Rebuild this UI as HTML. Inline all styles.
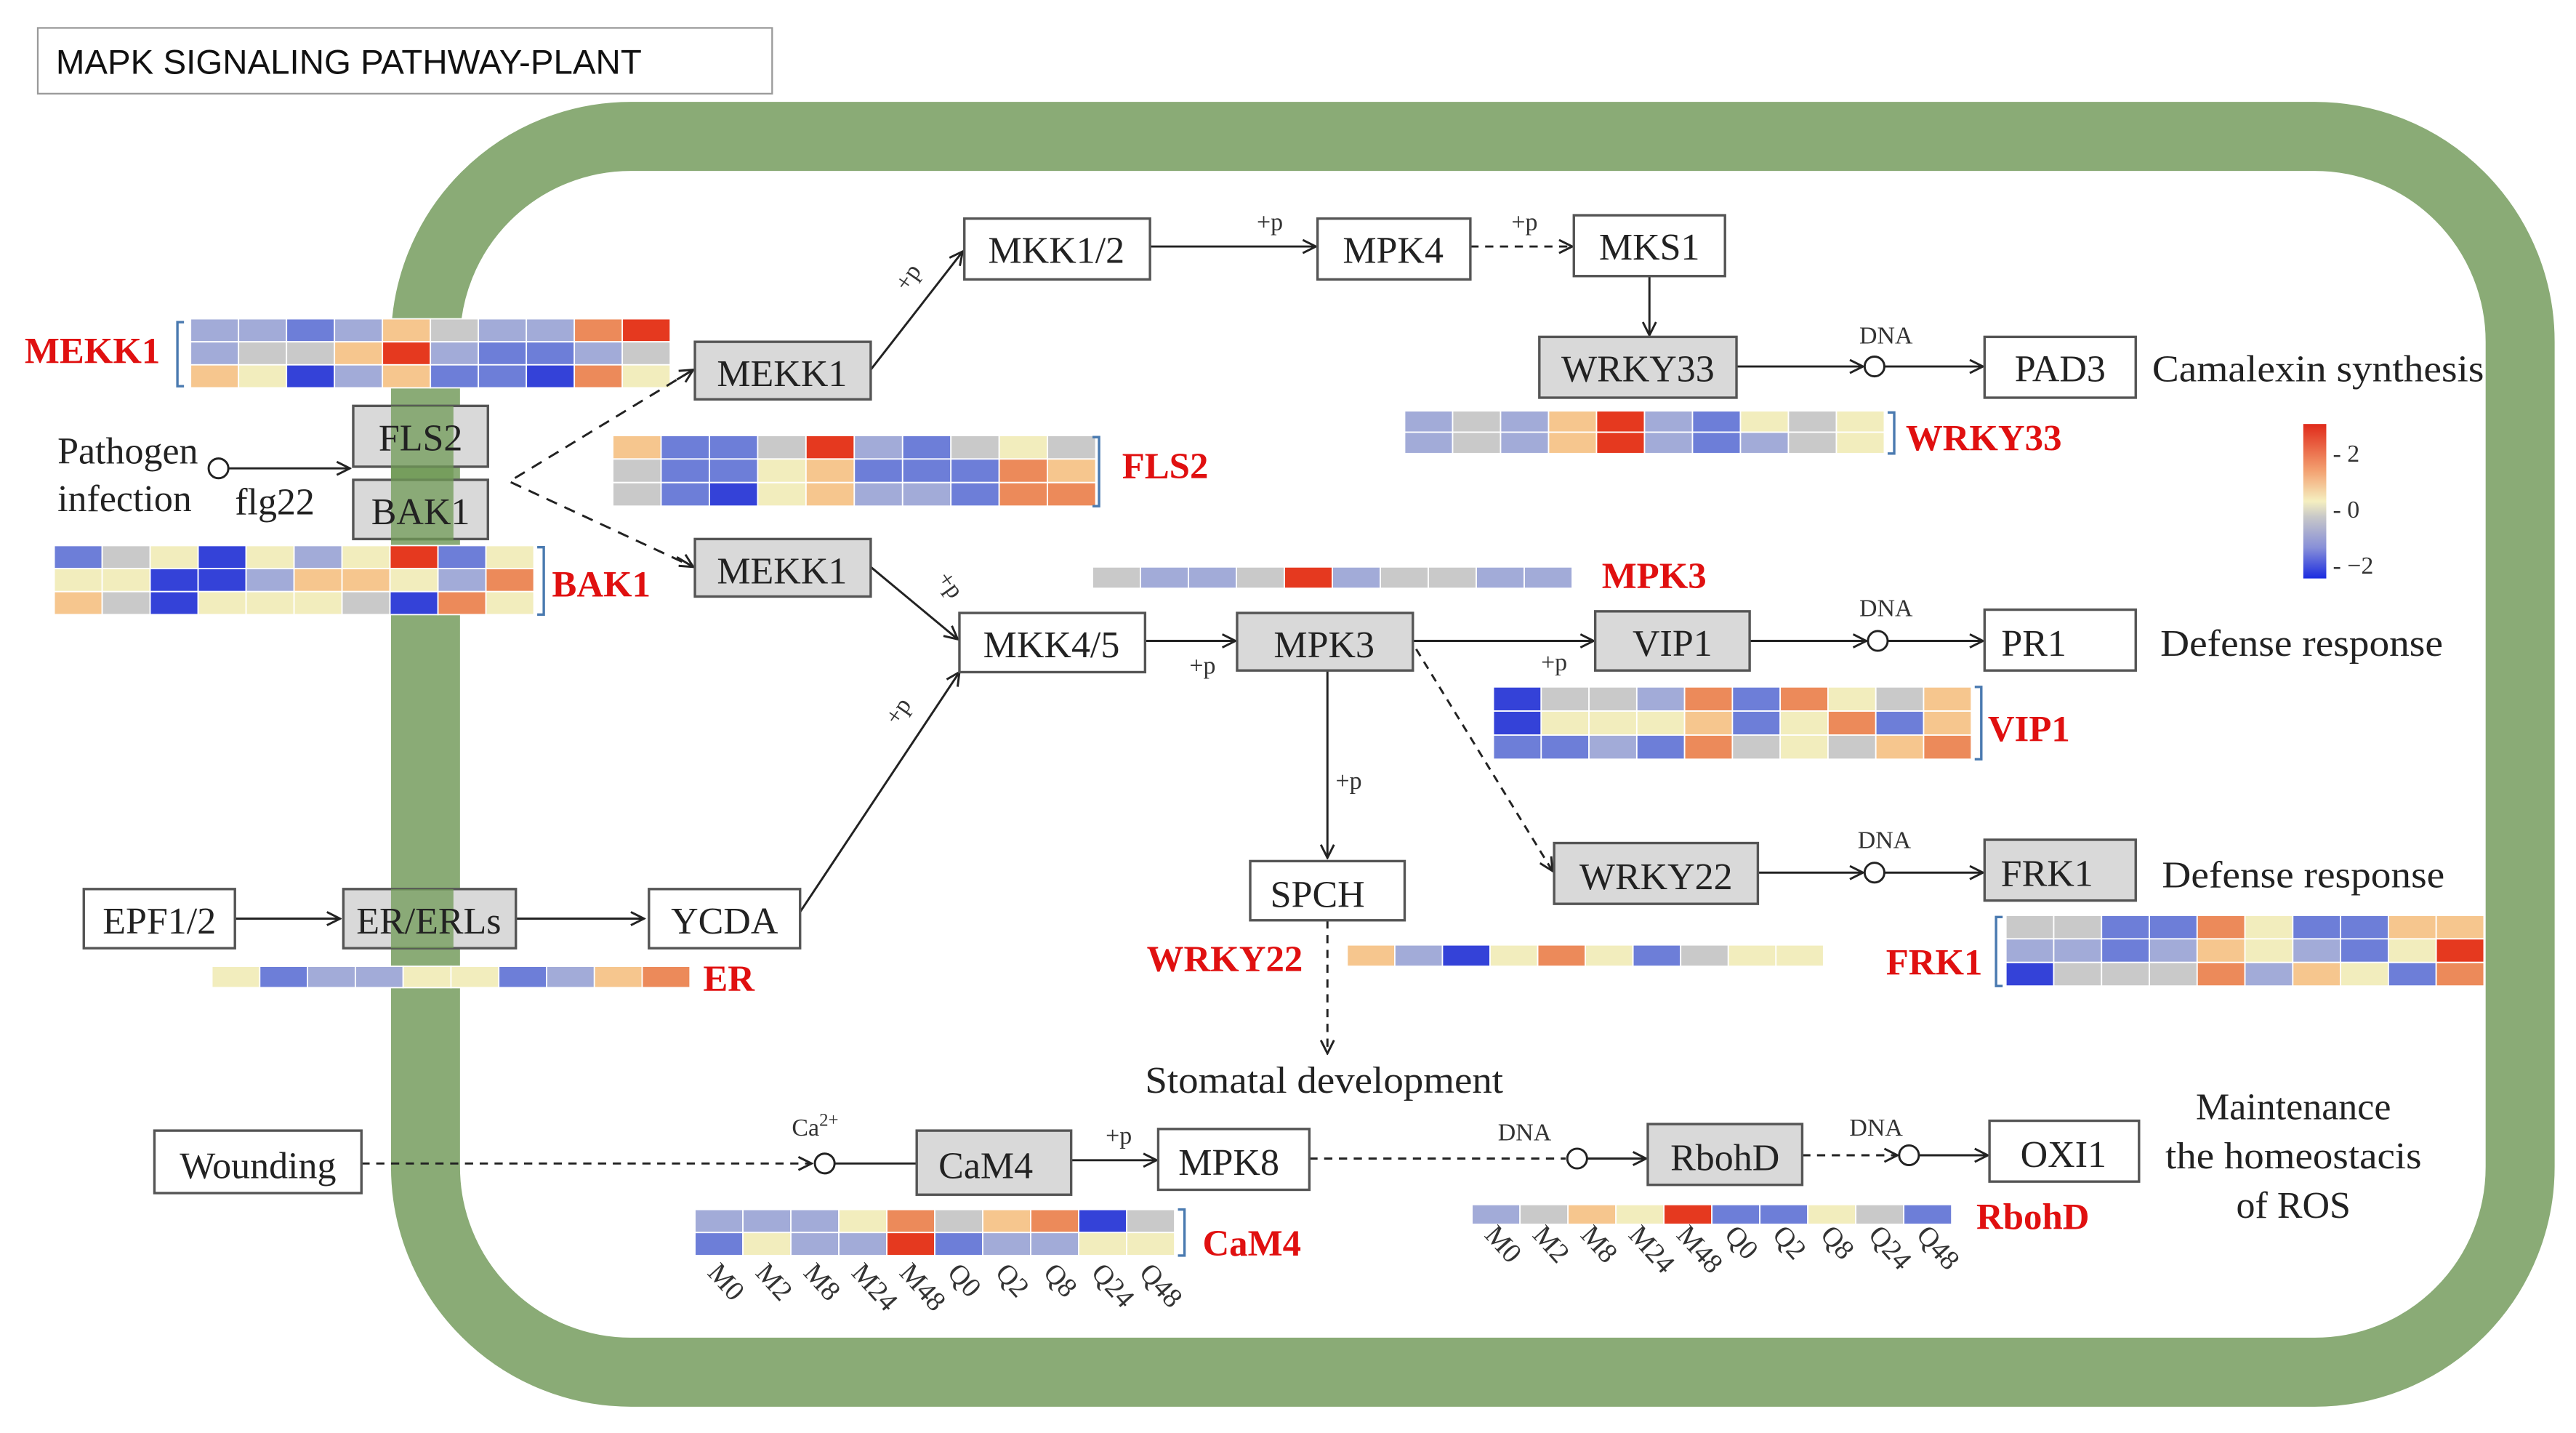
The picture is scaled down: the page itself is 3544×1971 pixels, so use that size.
<!DOCTYPE html>
<html><head><meta charset="utf-8"><style>
html,body{margin:0;padding:0;background:#fff;}
svg{display:block;}
.n{font-family:"Liberation Serif",serif;font-size:23px;fill:#222;}
.r{font-family:"Liberation Serif",serif;font-size:22.5px;font-weight:bold;fill:#e01010;}
.s{font-family:"Liberation Serif",serif;font-size:15px;fill:#333;}
.c{font-family:"Liberation Serif",serif;font-size:17px;fill:#333;}
</style></head><body>
<svg id="s" width="3544" height="1971" viewBox="0 0 1568 872" preserveAspectRatio="none" xmlns="http://www.w3.org/2000/svg">
<defs>
<marker id="a" markerWidth="10" markerHeight="10" refX="9" refY="5" orient="auto" markerUnits="userSpaceOnUse">
<path d="M1,1 L9,5 L1,9" fill="none" stroke="#222" stroke-width="1.3"/></marker>
<linearGradient id="cb" x1="0" y1="0" x2="0" y2="1">
<stop offset="0" stop-color="#e02a1a"/><stop offset="0.3" stop-color="#f3a070"/><stop offset="0.5" stop-color="#f5efc0"/><stop offset="0.6" stop-color="#c8c8c8"/><stop offset="0.8" stop-color="#8890d8"/><stop offset="1" stop-color="#1a2be0"/></linearGradient>
</defs>
<rect x="0" y="0" width="1568" height="872" fill="#fff"/>
<rect x="23" y="17" width="447" height="40" fill="#fff" stroke="#999" stroke-width="1"/>
<text x="34" y="45" style="font-family:'Liberation Sans',sans-serif;font-size:21px;fill:#111">MAPK SIGNALING PATHWAY-PLANT</text>
<rect x="259" y="83" width="1275" height="752" rx="125" ry="125" fill="none" stroke="#8aab76" stroke-width="42"/>

<g id="hm" stroke="#fff" stroke-width="0.8"></g>

<g fill="none" stroke="#222" stroke-width="1.3">
<line x1="530" y1="225" x2="586" y2="153" marker-end="url(#a)"/>
<line x1="700" y1="150" x2="801" y2="150" marker-end="url(#a)"/>
<line x1="895" y1="150" x2="957" y2="150" stroke-dasharray="5,4" marker-end="url(#a)"/>
<line x1="1004" y1="168" x2="1004" y2="204" marker-end="url(#a)"/>
<line x1="1057" y1="223" x2="1134" y2="223" marker-end="url(#a)"/>
<line x1="1147" y1="223" x2="1207" y2="223" marker-end="url(#a)"/>
<line x1="139" y1="285" x2="213" y2="285" marker-end="url(#a)"/>
<polyline points="422,225 310,293 422,345" stroke-dasharray="7,5"/>
<line x1="412" y1="231" x2="422" y2="225" marker-end="url(#a)"/>
<line x1="412" y1="339" x2="422" y2="345" marker-end="url(#a)"/>
<line x1="530" y1="345" x2="583" y2="389" marker-end="url(#a)"/>
<line x1="487" y1="555" x2="584" y2="409" marker-end="url(#a)"/>
<line x1="697" y1="390" x2="752" y2="390" marker-end="url(#a)"/>
<line x1="860" y1="390" x2="970" y2="390" marker-end="url(#a)"/>
<line x1="1065" y1="390" x2="1136" y2="390" marker-end="url(#a)"/>
<line x1="1149" y1="390" x2="1207" y2="390" marker-end="url(#a)"/>
<line x1="808" y1="408" x2="808" y2="522" marker-end="url(#a)"/>
<line x1="862" y1="395" x2="945" y2="530" stroke-dasharray="5,4" marker-end="url(#a)"/>
<line x1="1070" y1="531" x2="1134" y2="531" marker-end="url(#a)"/>
<line x1="1147" y1="531" x2="1207" y2="531" marker-end="url(#a)"/>
<line x1="808" y1="560" x2="808" y2="641" stroke-dasharray="5,4" marker-end="url(#a)"/>
<line x1="143" y1="559" x2="207" y2="559" marker-end="url(#a)"/>
<line x1="314" y1="559" x2="392" y2="559" marker-end="url(#a)"/>
<line x1="220" y1="708" x2="494" y2="708" stroke-dasharray="5,4" marker-end="url(#a)"/>
<line x1="508" y1="708" x2="558" y2="708"/>
<line x1="652" y1="706" x2="704" y2="706" marker-end="url(#a)"/>
<line x1="797" y1="705" x2="953" y2="705" stroke-dasharray="5,4"/>
<line x1="966" y1="705" x2="1002" y2="705" marker-end="url(#a)"/>
<line x1="1097" y1="703" x2="1155" y2="703" stroke-dasharray="5,4" marker-end="url(#a)"/>
<line x1="1168" y1="703" x2="1210" y2="703" marker-end="url(#a)"/>
</g>
<g fill="#fff" stroke="#222" stroke-width="1.3">
<circle cx="1141" cy="223" r="6"/><circle cx="133" cy="285" r="6"/><circle cx="1143" cy="390" r="6"/>
<circle cx="1141" cy="531" r="6"/><circle cx="502" cy="708" r="6"/><circle cx="960" cy="705" r="6"/><circle cx="1162" cy="703" r="6"/>
</g>

<g stroke="#555" stroke-width="1.5">
<rect x="587" y="133" width="113" height="37" fill="#fff"/>
<rect x="802" y="133" width="93" height="37" fill="#fff"/>
<rect x="958" y="131" width="92" height="37" fill="#fff"/>
<rect x="937" y="205" width="120" height="37" fill="#d9d9d9"/>
<rect x="1208" y="205" width="92" height="37" fill="#fff"/>
<rect x="423" y="208" width="107" height="35" fill="#d9d9d9"/>
<rect x="215" y="247" width="82" height="37" fill="#d9d9d9"/>
<rect x="215" y="292" width="82" height="36" fill="#d9d9d9"/>
<rect x="423" y="328" width="107" height="35" fill="#d9d9d9"/>
<rect x="584" y="373" width="113" height="36" fill="#fff"/>
<rect x="753" y="373" width="107" height="35" fill="#d9d9d9"/>
<rect x="971" y="372" width="94" height="36" fill="#d9d9d9"/>
<rect x="1208" y="371" width="92" height="37" fill="#fff"/>
<rect x="946" y="513" width="124" height="37" fill="#d9d9d9"/>
<rect x="1208" y="511" width="92" height="37" fill="#d9d9d9"/>
<rect x="761" y="524" width="94" height="36" fill="#fff"/>
<rect x="51" y="541" width="92" height="36" fill="#fff"/>
<rect x="209" y="541" width="105" height="36" fill="#d9d9d9"/>
<rect x="395" y="541" width="92" height="36" fill="#fff"/>
<rect x="94" y="688" width="126" height="38" fill="#fff"/>
<rect x="558" y="688" width="94" height="39" fill="#d9d9d9"/>
<rect x="705" y="687" width="92" height="37" fill="#fff"/>
<rect x="1003" y="684" width="94" height="37" fill="#d9d9d9"/>
<rect x="1211" y="682" width="91" height="37" fill="#fff"/>
</g>
<rect x="238" y="247" width="38" height="82" fill="#6f9a55" opacity="0.75"/>
<rect x="238" y="541" width="38" height="36" fill="#6f9a55" opacity="0.75"/>

<g class="n" text-anchor="middle">
<text x="643" y="160">MKK1/2</text><text x="848" y="160">MPK4</text><text x="1004" y="158">MKS1</text>
<text x="997" y="232">WRKY33</text><text x="1254" y="232">PAD3</text>
<text x="476" y="235">MEKK1</text><text x="256" y="274">FLS2</text><text x="256" y="319">BAK1</text>
<text x="476" y="355">MEKK1</text><text x="640" y="400">MKK4/5</text><text x="806" y="400">MPK3</text>
<text x="1018" y="399">VIP1</text><text x="1238" y="399">PR1</text>
<text x="1008" y="541">WRKY22</text><text x="1246" y="539">FRK1</text><text x="802" y="552">SPCH</text>
<text x="97" y="568">EPF1/2</text><text x="261" y="568">ER/ERLs</text><text x="441" y="568">YCDA</text>
<text x="157" y="717">Wounding</text><text x="600" y="717">CaM4</text><text x="748" y="715">MPK8</text>
<text x="1050" y="712">RbohD</text><text x="1256" y="710">OXI1</text>
</g>
<g class="n">
<text x="1310" y="232" textLength="202" lengthAdjust="spacingAndGlyphs">Camalexin synthesis</text>
<text x="1315" y="399" textLength="172" lengthAdjust="spacingAndGlyphs">Defense response</text>
<text x="1316" y="540" textLength="172" lengthAdjust="spacingAndGlyphs">Defense response</text>
<text x="35" y="282">Pathogen</text><text x="35" y="311">infection</text><text x="143" y="313">flg22</text>
<text x="806" y="665" text-anchor="middle" textLength="218" lengthAdjust="spacingAndGlyphs">Stomatal development</text>
<text x="1396" y="681" text-anchor="middle">Maintenance</text>
<text x="1396" y="711" text-anchor="middle" textLength="156" lengthAdjust="spacingAndGlyphs">the homeostacis</text>
<text x="1396" y="741" text-anchor="middle">of ROS</text>
</g>
<g class="s">
<text x="1148" y="209" text-anchor="middle">DNA</text><text x="1148" y="375" text-anchor="middle">DNA</text>
<text x="1147" y="516" text-anchor="middle">DNA</text><text x="928" y="694" text-anchor="middle">DNA</text>
<text x="1142" y="691" text-anchor="middle">DNA</text>
<text x="482" y="691">Ca<tspan dy="-6" font-size="11">2+</tspan></text>
<text x="765" y="140">+p</text><text x="920" y="140">+p</text>
<text x="724" y="410">+p</text><text x="938" y="408">+p</text><text x="813" y="480">+p</text><text x="673" y="696">+p</text>
<text transform="translate(552,178) rotate(-55)">+p</text>
<text transform="translate(570,352) rotate(55)">+p</text>
<text transform="translate(546,442) rotate(-55)">+p</text>
</g>
<g class="r">
<text x="15" y="221">MEKK1</text><text x="683" y="291">FLS2</text><text x="336" y="363">BAK1</text>
<text x="1160" y="274">WRKY33</text><text x="975" y="358">MPK3</text><text x="1210" y="451">VIP1</text>
<text x="698" y="591">WRKY22</text><text x="1148" y="593">FRK1</text><text x="428" y="603">ER</text>
<text x="732" y="764">CaM4</text><text x="1203" y="748">RbohD</text>
</g>
<rect x="1402" y="258" width="14" height="94" fill="url(#cb)"/>
<g class="s" font-size="13"><text x="1420" y="281">- 2</text><text x="1420" y="315">- 0</text><text x="1420" y="349">- −2</text></g>
<g stroke="#4a7ab0" stroke-width="1.5" fill="none">
<polyline points="112,196 108,196 108,235 112,235"/>
<polyline points="665,266 669,266 669,308 665,308"/>
<polyline points="327,333 331,333 331,374 327,374"/>
<polyline points="1149,251 1153,251 1153,276 1149,276"/>
<polyline points="1202,418 1206,418 1206,462 1202,462"/>
<polyline points="1219,558 1215,558 1215,600 1219,600"/>
<polyline points="717,736 721,736 721,764 717,764"/>
</g>
<g id="cl" class="c"></g>
</svg>
<script>
var C={B:"#3442d8",b:"#6d7ed8",l:"#a2abd8",g:"#c9c9c9",y:"#f2edbd",o:"#f6c68e",O:"#ec8a5a",R:"#e5391f"};
var H=[
[116,194,292,42,["llblogllOR","lggoRlbblg","oyBlobbBOy"]],
[373,265,294,43,["obbgRlbgyg","gbbyobbbOo","gbByollbOO"]],
[33,332,292,42,["bgyBylyRby","yyBBlooylO","ogByyygBOy"]],
[855,250,292,26,["lgloRlbygy","lgloRlblgy"]],
[665,345,292,13,["gllgRlggll"]],
[909,418,291,44,["BgglObOygo","ByyyobyObo","bblbOgygoO"]],
[820,575,290,13,["olByOybgyy"]],
[1221,557,291,43,["ggbbOybboo","llbloylbyR","BgggOloybO"]],
[129,588,291,13,["ybllyybloO"]],
[423,736,292,28,["lllyOgoOBg","byllRbllyy"]],
[896,733,292,12,["lgoyRbbygb"]]];
var s="";
H.forEach(function(h){var r=h[4],cw=h[2]/10,rh=h[3]/r.length;
r.forEach(function(row,i){for(var j=0;j<10;j++){s+='<rect x="'+(h[0]+j*cw).toFixed(1)+'" y="'+(h[1]+i*rh).toFixed(1)+'" width="'+cw.toFixed(1)+'" height="'+rh.toFixed(1)+'" fill="'+C[row[j]]+'"/>';}});});
document.getElementById("hm").innerHTML=s;
var L=["M0","M2","M8","M24","M48","Q0","Q2","Q8","Q24","Q48"],t="";
[[423,775],[896,752]].forEach(function(p){for(var j=0;j<10;j++){var x=p[0]+j*29.2+7;t+='<text transform="translate('+x+','+p[1]+') rotate(48)">'+L[j]+'</text>';}});
document.getElementById("cl").innerHTML=t;
</script>
</body></html>
